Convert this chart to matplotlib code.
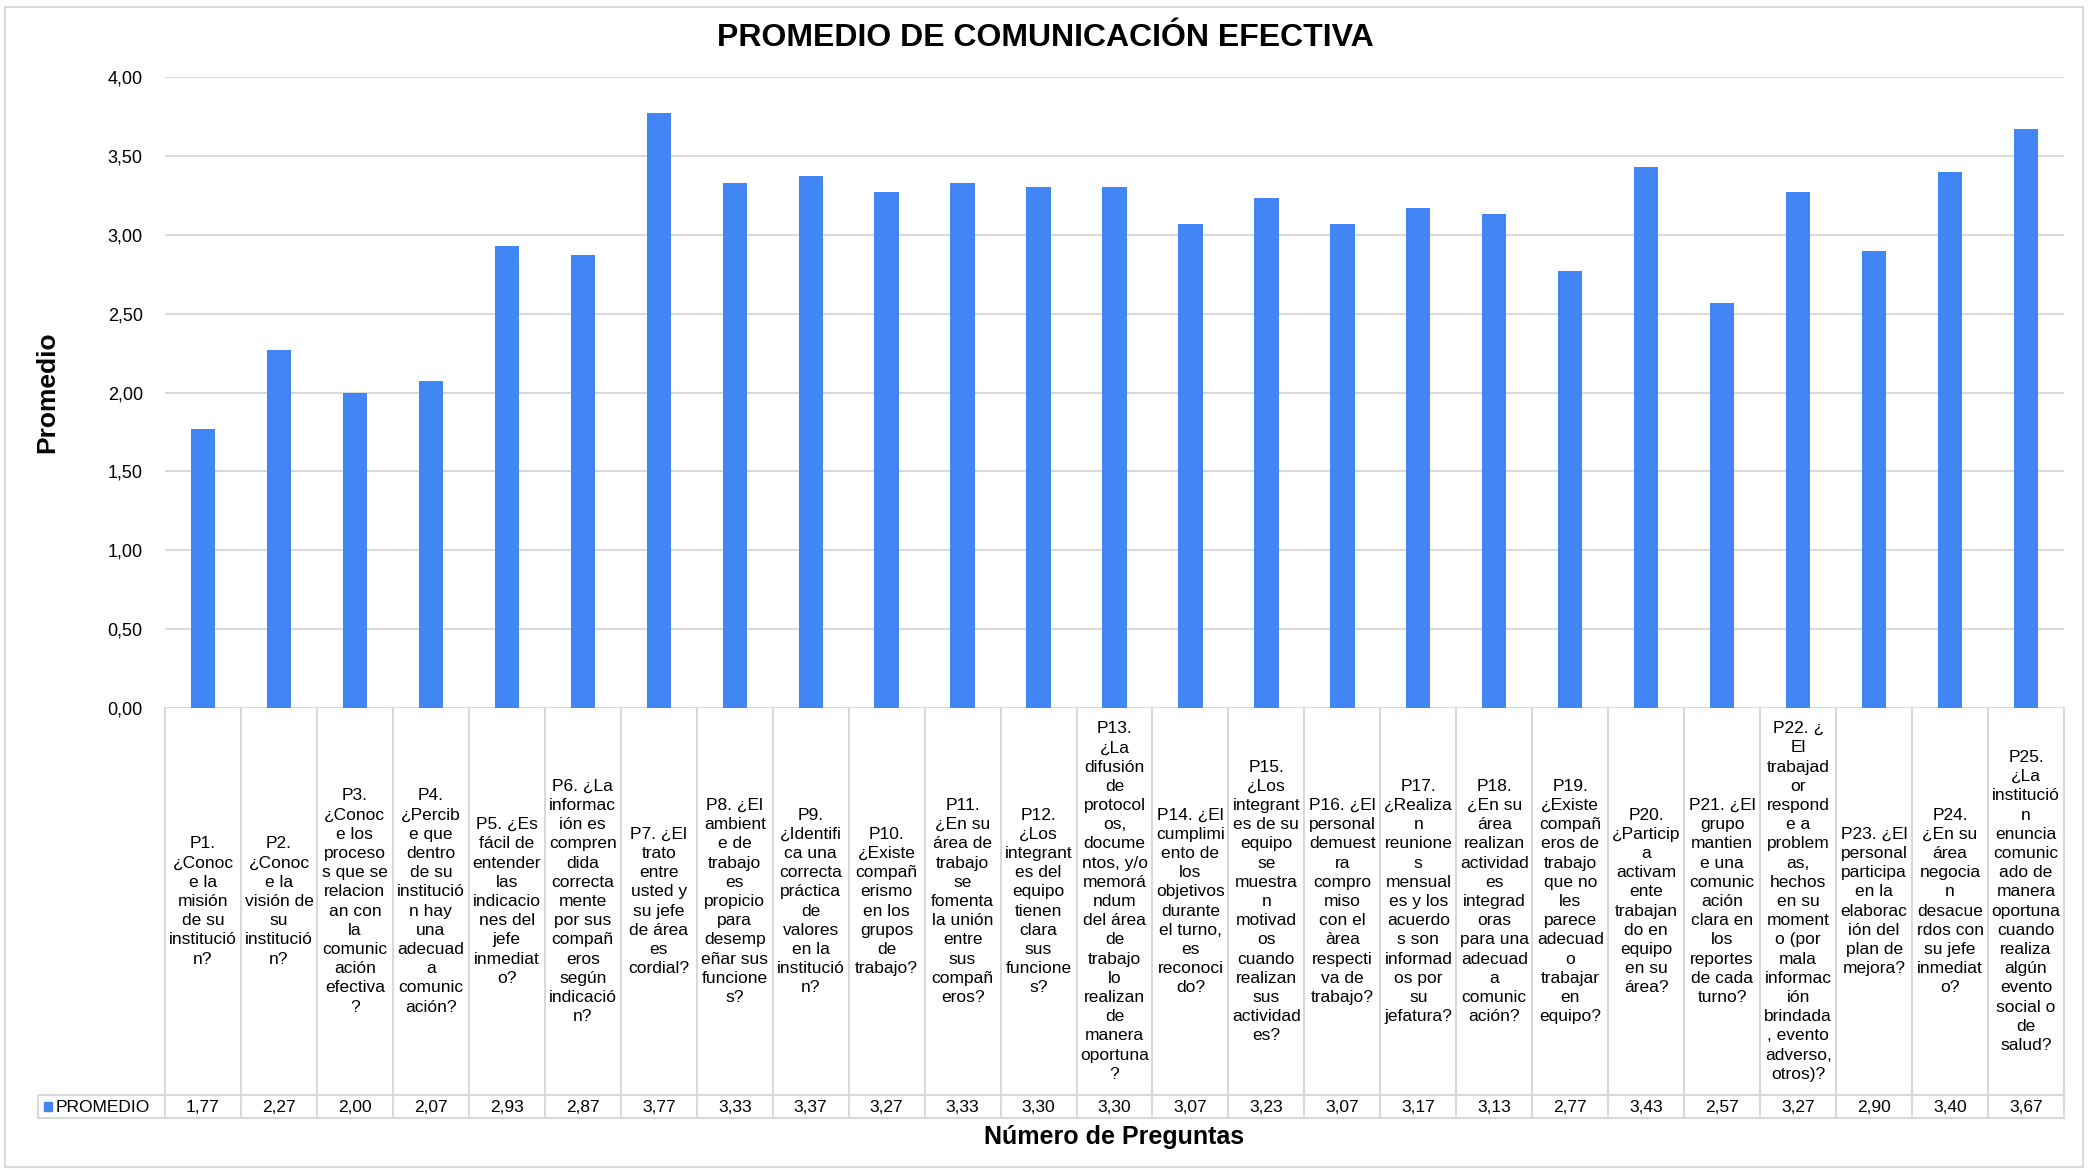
import numpy as np
import matplotlib.pyplot as plt
import matplotlib.transforms as mtransforms
from matplotlib.patches import Rectangle

plt.rcParams['font.family'] = ['Liberation Sans', 'DejaVu Sans']

# preguntas de la encuesta (texto partido como en las celdas de la tabla)
preguntas = [
    "P1.\n¿Conoc\ne la\nmisión\nde su\ninstitució\nn?",
    "P2.\n¿Conoc\ne la\nvisión de\nsu\ninstitució\nn?",
    "P3.\n¿Conoc\ne los\nproceso\ns que se\nrelacion\nan con\nla\ncomunic\nación\nefectiva\n?",
    "P4.\n¿Percib\ne que\ndentro\nde su\ninstitució\nn hay\nuna\nadecuad\na\ncomunic\nación?",
    "P5. ¿Es\nfácil de\nentender\nlas\nindicacio\nnes del\njefe\ninmediat\no?",
    "P6. ¿La\ninformac\nión es\ncompren\ndida\ncorrecta\nmente\npor sus\ncompañ\neros\nsegún\nindicació\nn?",
    "P7. ¿El\ntrato\nentre\nusted y\nsu jefe\nde área\nes\ncordial?",
    "P8. ¿El\nambient\ne de\ntrabajo\nes\npropicio\npara\ndesemp\neñar sus\nfuncione\ns?",
    "P9.\n¿Identifi\nca una\ncorrecta\npráctica\nde\nvalores\nen la\ninstitució\nn?",
    "P10.\n¿Existe\ncompañ\nerismo\nen los\ngrupos\nde\ntrabajo?",
    "P11.\n¿En su\nárea de\ntrabajo\nse\nfomenta\nla unión\nentre\nsus\ncompañ\neros?",
    "P12.\n¿Los\nintegrant\nes del\nequipo\ntienen\nclara\nsus\nfuncione\ns?",
    "P13.\n¿La\ndifusión\nde\nprotocol\nos,\ndocume\nntos, y/o\nmemorá\nndum\ndel área\nde\ntrabajo\nlo\nrealizan\nde\nmanera\noportuna\n?",
    "P14. ¿El\ncumplimi\nento de\nlos\nobjetivos\ndurante\nel turno,\nes\nreconoci\ndo?",
    "P15.\n¿Los\nintegrant\nes de su\nequipo\nse\nmuestra\nn\nmotivad\nos\ncuando\nrealizan\nsus\nactividad\nes?",
    "P16. ¿El\npersonal\ndemuest\nra\ncompro\nmiso\ncon el\nàrea\nrespecti\nva de\ntrabajo?",
    "P17.\n¿Realiza\nn\nreunione\ns\nmensual\nes y los\nacuerdo\ns son\ninformad\nos por\nsu\njefatura?",
    "P18.\n¿En su\nárea\nrealizan\nactividad\nes\nintegrad\noras\npara una\nadecuad\na\ncomunic\nación?",
    "P19.\n¿Existe\ncompañ\neros de\ntrabajo\nque no\nles\nparece\nadecuad\no\ntrabajar\nen\nequipo?",
    "P20.\n¿Particip\na\nactivam\nente\ntrabajan\ndo en\nequipo\nen su\nárea?",
    "P21. ¿El\ngrupo\nmantien\ne una\ncomunic\nación\nclara en\nlos\nreportes\nde cada\nturno?",
    "P22. ¿\nEl\ntrabajad\nor\nrespond\ne a\nproblem\nas,\nhechos\nen su\nmoment\no (por\nmala\ninformac\nión\nbrindada\n, evento\nadverso,\notros)?",
    "P23. ¿El\npersonal\nparticipa\nen la\nelaborac\nión del\nplan de\nmejora?",
    "P24.\n¿En su\nárea\nnegocia\nn\ndesacue\nrdos con\nsu jefe\ninmediat\no?",
    "P25.\n¿La\ninstitució\nn\nenuncia\ncomunic\nado de\nmanera\noportuna\ncuando\nrealiza\nalgún\nevento\nsocial o\nde\nsalud?",
]

promedio = [1.77, 2.27, 2.00, 2.07, 2.93, 2.87, 3.77, 3.33, 3.37, 3.27,
            3.33, 3.30, 3.30, 3.07, 3.23, 3.07, 3.17, 3.13, 2.77, 3.43,
            2.57, 3.27, 2.90, 3.40, 3.67]

azul = '#4285F4'
gris = '#D9D9D9'

W, H = 2091, 1170
fig = plt.figure(figsize=(W / 100, H / 100), dpi=100)

# area de la grafica en pixeles
x0, x1 = 165, 2064
y_top, y_cero = 77, 708
ax = fig.add_axes([x0 / W, 1 - y_cero / H, (x1 - x0) / W, (y_cero - y_top) / H])

n = len(promedio)
x = np.arange(n)
ax.bar(x, promedio, width=0.32, color=azul, zorder=3)
ax.set_xlim(-0.5, n - 0.5)
ax.set_ylim(0, 4)
ax.set_yticks(np.arange(0, 4.01, 0.5))
ax.set_yticklabels([f"{v:.2f}".replace('.', ',') for v in np.arange(0, 4.01, 0.5)], fontsize=13)
ax.tick_params(axis='y', length=0, pad=16)
ax.set_xticks([])
ax.grid(axis='y', color=gris, linewidth=1.5, zorder=0)
for s in ax.spines.values():
    s.set_visible(False)

# tabla de datos debajo del eje
tr = mtransforms.blended_transform_factory(ax.transData, fig.transFigure)
fy = lambda py: 1 - py / H
y_lab_bot, y_val_bot = 1095, 1118

for i, txt in enumerate(preguntas):
    ax.text(i, fy((y_cero + y_lab_bot) / 2), txt, transform=tr, ha='center', va='center',
            fontsize=12.5, linespacing=1.35, clip_on=False)
    ax.text(i, fy((y_lab_bot + y_val_bot) / 2 + 1), f"{promedio[i]:.2f}".replace('.', ','),
            transform=tr, ha='center', va='center', fontsize=12.5, clip_on=False)

for b in np.arange(-0.5, n, 1.0):
    ax.plot([b, b], [fy(y_cero), fy(y_val_bot)], transform=tr, color=gris, lw=1.5, clip_on=False)

x_leg = 38
for py in (y_lab_bot, y_val_bot):
    fig.add_artist(plt.Line2D([x_leg / W, x1 / W], [fy(py), fy(py)], color=gris, lw=1.5))
fig.add_artist(plt.Line2D([x_leg / W, x_leg / W], [fy(y_lab_bot), fy(y_val_bot)], color=gris, lw=1.5))

# leyenda dentro de la tabla
fig.add_artist(Rectangle((44 / W, fy(1111)), 8 / W, 9 / H, color=azul, transform=fig.transFigure))
fig.text(56 / W, fy(1107), "PROMEDIO", fontsize=12.5, va='center', ha='left')

# titulos
fig.text(0.5, fy(38), "PROMEDIO DE COMUNICACIÓN EFECTIVA", ha='center', va='center',
         fontsize=23, fontweight='bold')
fig.text((x0 + x1) / 2 / W, fy(1137), "Número de Preguntas", ha='center', va='center',
         fontsize=18, fontweight='bold')
fig.text(47 / W, fy((y_top + y_cero) / 2), "Promedio", ha='center', va='center',
         rotation=90, fontsize=19, fontweight='bold')

# borde del grafico
fig.add_artist(Rectangle((5 / W, fy(1167)), (2083 - 5) / W, (1167 - 7) / H, fill=False,
                         edgecolor=gris, lw=1.5, transform=fig.transFigure))

fig.savefig('out.png', dpi=100)
